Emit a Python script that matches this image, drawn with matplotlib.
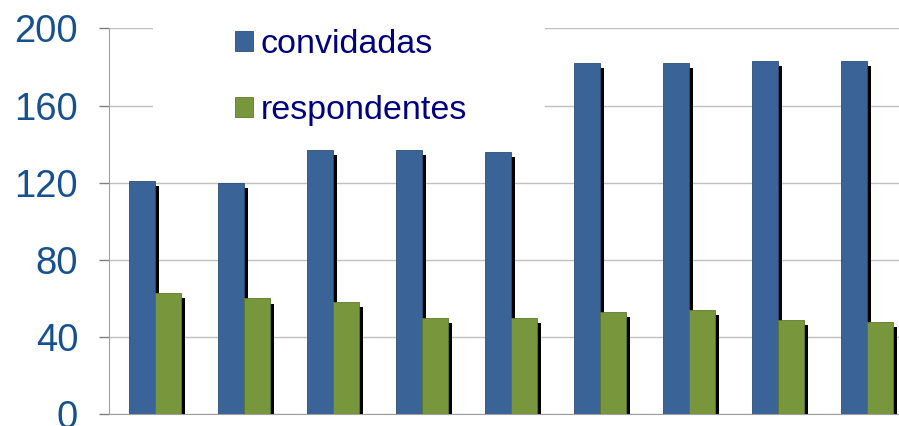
import numpy as np
import matplotlib.pyplot as plt
from matplotlib.patches import Rectangle

plt.rcParams['font.family'] = ['Liberation Sans', 'DejaVu Sans']

# valores
grupos = np.arange(9)
convidadas = [121, 120, 137, 137, 136, 182, 182, 183, 183]
respondentes = [63, 60, 58, 50, 50, 53, 54, 49, 48]
yticks = [0, 40, 80, 120, 160, 200]

azul = '#3A6398'
verde = '#78963C'
largura = 0.29
desloc = 0.017
sombra_dx = 0.045
sombra_dy = 2.6

fig = plt.figure(figsize=(8.99, 4.26), dpi=100)
ax = fig.add_axes([0.1212, 0.0275, 0.8788, 0.906])

x_az = grupos + desloc - largura
x_vd = grupos + desloc

# sombras pretas
ax.bar(x_az + sombra_dx, np.array(convidadas) - sombra_dy, width=largura,
       align='edge', color='black', zorder=2)
ax.bar(x_vd + sombra_dx, np.array(respondentes) - sombra_dy, width=largura,
       align='edge', color='black', zorder=2)

# barras
ax.bar(x_az, convidadas, width=largura, align='edge', color=azul,
       edgecolor='#2C4D78', linewidth=0.6, zorder=3, label='convidadas')
ax.bar(x_vd, respondentes, width=largura, align='edge', color=verde,
       edgecolor='#5E7A2C', linewidth=0.6, zorder=3, label='respondentes')

ax.set_xlim(-0.5, 8.376)
ax.set_ylim(0, 200)
ax.set_yticks(yticks)
ax.set_xticks([])
ax.tick_params(axis='y', length=7.2, width=1, color='#808080', pad=15,
               labelsize=27.5, labelcolor='#17508F')

ax.grid(axis='y', color='#C0C0C0', linewidth=1, zorder=0)
ax.set_axisbelow(True)
for s in ['top', 'right']:
    ax.spines[s].set_visible(False)
ax.spines['left'].set_color('#A0A0A0')
ax.spines['bottom'].set_color('#A0A0A0')

# fundo branco da legenda (cobre as linhas de grade)
fig.patches.append(Rectangle((0.170, 0.683), 0.436, 0.317,
                             transform=fig.transFigure, facecolor='white',
                             edgecolor='none', zorder=1))

leg = fig.legend(loc='upper left', bbox_to_anchor=(0.2403, 0.9765),
                 fontsize=24.5, handlelength=0.53, handleheight=0.53,
                 handletextpad=0.23, labelspacing=1.03, borderpad=0.55,
                 borderaxespad=0, frameon=False)
for t in leg.get_texts():
    t.set_color('#000080')

fig.savefig('out.png', dpi=100)
